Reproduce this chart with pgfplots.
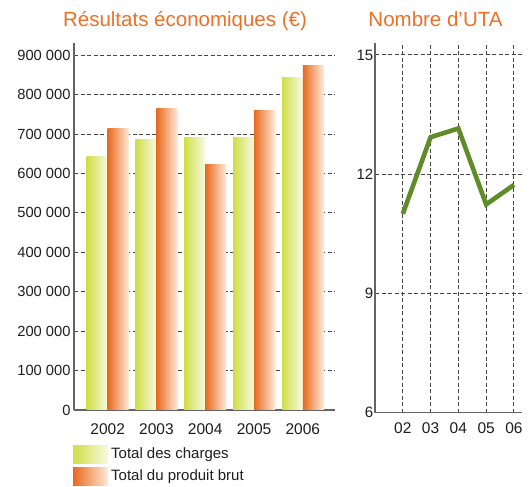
\documentclass[border=0pt]{standalone}
\usepackage{pgfplots}
\pgfplotsset{compat=1.18}
\usepackage{fontspec}
\setmainfont{Liberation Sans}
\definecolor{titleor}{RGB}{236,112,38}
\definecolor{gL}{RGB}{208,222,70}
\definecolor{gR}{RGB}{248,250,228}
\definecolor{oL}{RGB}{232,106,30}
\definecolor{oR}{RGB}{255,234,218}
\definecolor{lineg}{RGB}{95,140,40}
\definecolor{axg}{RGB}{100,100,100}
\definecolor{gridg}{RGB}{70,70,70}
\definecolor{txt}{RGB}{30,30,30}
\pgfplotsset{
  gbar/.style={draw=none, left color=gL, right color=gR, bar shift=-10.5bp, forget plot},
  obar/.style={draw=none, left color=oL, right color=oR, bar shift=10.5bp, forget plot},
}
\begin{document}
\begin{tikzpicture}
\begin{axis}[
  at={(74bp,77bp)}, anchor=south west, scale only axis,
  width=261bp, height=367bp,
  xmin=-0.69, xmax=4.66, ymin=0, ymax=931000,
  ybar=0pt, bar width=21bp,
  scaled y ticks=false,
  axis x line*=bottom, axis y line*=left,
  axis line style={axg, line width=1.5bp},
  xtick={0,1,2,3,4}, xticklabels={2002,2003,2004,2005,2006},
  ytick={0,100000,200000,300000,400000,500000,600000,700000,800000,900000},
  yticklabels={0,100 000,200 000,300 000,400 000,500 000,600 000,700 000,800 000,900 000},
  major tick length=0pt,
  ymajorgrids, grid style={gridg, dash pattern=on 4bp off 2.5bp, line width=1bp},
  xticklabel style={anchor=base, yshift=-25bp, font=\fontsize{15.5bp}{18bp}\selectfont, text=txt},
  yticklabel style={font=\fontsize{14.7bp}{18bp}\selectfont, text=txt},
  legend image code/.code={\path[#1] (0bp,-9bp) rectangle (35bp,9bp);},
  legend style={at={(-0.004,-0.0954)}, anchor=north west, draw=none, fill=none,
    inner sep=0pt, row sep=4bp, nodes={inner sep=0pt, text=txt},
    font=\fontsize{15bp}{18bp}\selectfont,
    /tikz/every odd column/.append style={column sep=3bp}},
  legend cell align=left,
]
% Total des charges
\addplot[gbar] coordinates {(0,644000)};
\addplot[gbar] coordinates {(1,685000)};
\addplot[gbar] coordinates {(2,691000)};
\addplot[gbar] coordinates {(3,691000)};
\addplot[gbar] coordinates {(4,843000)};
% Total du produit brut
\addplot[obar] coordinates {(0,713000)};
\addplot[obar] coordinates {(1,766000)};
\addplot[obar] coordinates {(2,624000)};
\addplot[obar] coordinates {(3,761000)};
\addplot[obar] coordinates {(4,873000)};
\addlegendimage{draw=none, left color=gL, right color=gR}
\addlegendentry{Total des charges}
\addlegendimage{draw=none, left color=oL, right color=oR}
\addlegendentry{Total du produit brut}
\end{axis}
\begin{axis}[
  at={(375bp,74.3bp)}, anchor=south west, scale only axis,
  width=147bp, height=369.7bp,
  xmin=1, xmax=6.29, ymin=6, ymax=15.3,
  axis x line*=bottom, axis y line*=left,
  axis line style={axg, line width=1.5bp},
  xtick={2,3,4,5,6}, xticklabels={02,03,04,05,06},
  ytick={6,9,12,15},
  /pgf/number format/assume math mode=true,
  major tick length=0pt,
  grid=major, grid style={gridg, dash pattern=on 4bp off 2.5bp, line width=1bp},
  xticklabel style={anchor=base, yshift=-20.5bp, font=\fontsize{15.5bp}{18bp}\selectfont, text=txt},
  yticklabel style={font=\fontsize{15bp}{18bp}\selectfont, text=txt, inner xsep=1.5bp},
]
\addplot[lineg, line width=4.6bp] coordinates {(2,11.0) (3,12.93) (4,13.15) (5,11.24) (6,11.73)};
\end{axis}
\node[anchor=base, text=titleor, font=\fontsize{20.5bp}{24bp}\selectfont] at (185bp,460bp) {Résultats économiques (€)};
\node[anchor=base, text=titleor, font=\fontsize{20.5bp}{24bp}\selectfont] at (435.5bp,460bp) {Nombre d’UTA};
\pgfresetboundingbox
\useasboundingbox (0,0) rectangle (529bp,487bp);
\end{tikzpicture}
\end{document}
